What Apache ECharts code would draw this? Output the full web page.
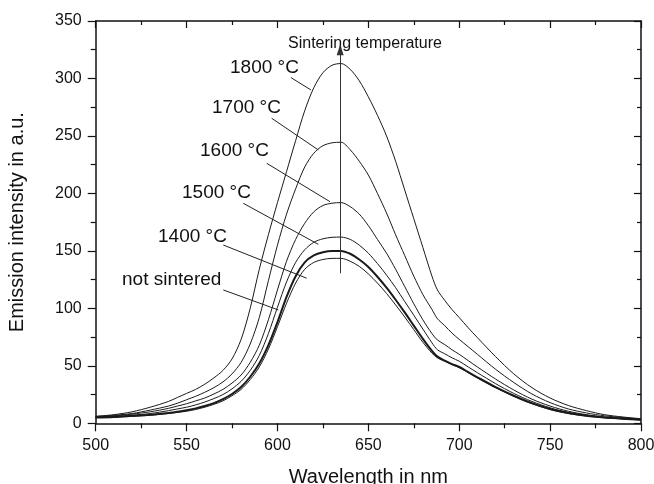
<!DOCTYPE html>
<html>
<head>
<meta charset="utf-8">
<script src="https://cdn.jsdelivr.net/npm/echarts@6/dist/echarts.min.js"></script>
<style>
html,body{margin:0;padding:0;background:#fff;}
#c{width:654px;height:484px;}
</style>
</head>
<body>
<div id="c"></div>
<script>
// ---- data ----
const wavelength = [500,510,520,530,
  540,545,550,555,560,565,570,575,580,585,590,595,600,605,610,615,620,625,630,635,640,645,650,655,660,665,670,675,680,685,
  688,692,696,700,705,710,
  720,730,740,750,760,770,780,790,800];
const s1800 = [6,7.5,10,14,
  19,22.5,26,29.5,34,39.5,46,56,73,100,134,164,192,219,246,272,292,305,311.5,313,308,298,284,268,250,228,203,178,153,128,
  116,107,99,92,83,74.5,
  58,43,31,22,15.5,11,7.5,5.5,4];
const s1700 = [6,7,8.5,11.5,
  15,17.5,20.5,23.5,27,31,36,43,53,69,92,124,155,182,204,223,235,241.5,244,244.5,238,228,216,200,183,164,146,128,112,99,
  91,85,78.5,73,66.5,60,
  47,35.5,25.5,18,12.5,9,6.5,5,3.5];
const s1600 = [5.5,6.5,8,10,
  13,15,17,19.5,22,25.5,29.5,35,42,53,68,90,116,141,160,174,184,189.5,191.5,192,188.5,182,172,160,148,134,119,104,90,78,
  72.5,68.5,64,60,54.5,49,
  38.5,29,21,15,10.5,7.5,5.5,4.5,3.5];
const s1500 = [5.5,6,7,8.5,
  11,12.5,14,16,18.5,21.5,25,30,36.5,46,59,78,101,123,140,151,157.5,160.5,161.8,162,160,155,148,139,129,118,106,94,82,70,
  64,60.5,57,54,49,44,
  34.5,26,19,13.5,9.5,7,5,4,3];
const s1400 = [5,5.5,6.5,7.5,
  9,10,11.3,13,15,17.5,21,25.5,31.5,40.5,52,68,88,110,128,140,146,148.8,150,150,147.5,142.5,136,127.5,118,107.5,96.5,85,73.5,63,
  58,54.5,51.5,49,44.5,40,
  31.5,24,17.5,12.5,9,6.5,5,4,3];
const sNot = [5,5.5,6,7,
  8.5,9.5,10.5,12,14,16.5,19.5,24,29.5,38,49,64.5,84,104.5,122,134,140,142.5,143.5,143.5,141,136.5,130,122,113,103,92.5,81.5,70.5,61,
  57,54,51,48.5,44,39.5,
  31,23.5,17,12,8.5,6.3,4.8,3.8,3];
const xTicks = [500,550,600,650,700,750,800];
const yTicks = [0,50,100,150,200,250,300,350];
const xTitle = 'Wavelength in nm';
const yTitle = 'Emission intensity in a.u.';
// annotation labels (data coords of text left-middle, leader start, leader end)
const labelTexts = ['1800 °C','1700 °C','1600 °C','1500 °C','1400 °C','not sintered'];
const labelAt = [[573.9,309.1],[564.0,274.3],[557.4,236.9],[547.5,200.4],[534.3,162.1],[514.5,124.7]];
const leaderFrom = [[607.4,300.8],[596.8,265.4],[594.1,226.2],[581.2,191.4],[570.2,155.1],[570.2,116.0]];
const leaderTo = [[618.4,290.0],[622.5,237.8],[628.9,192.8],[622.5,155.7],[616.1,126.2],[600.5,98.6]];
const arrowText = 'Sintering temperature';
const arrowTextAt = [605.8,330.0];
const arrowFrom = [634.5,130.5];
const arrowTo = [634.5,325];

const pairs = arr => wavelength.map((w,i)=>[w,arr[i]]);
const FONT = '"Liberation Sans", Arial, sans-serif';
const ink = '#111';

const chart = echarts.init(document.getElementById('c'), null, {renderer:'canvas'});

function curve(name, arr, width){
  return {name, type:'line', data:pairs(arr), showSymbol:false, smooth:0.3,
    lineStyle:{color:'#1a1a1a', width:width}, silent:true, animation:false};
}

const axisCommon = {
  axisLine:{show:true, onZero:false, lineStyle:{color:ink, width:1.5}},
  splitLine:{show:false},
  minorTick:{show:true, splitNumber:2, length:5, lineStyle:{color:ink, width:1.2}},
  axisTick:{show:true, inside:false, length:8, lineStyle:{color:ink, width:1.2}}
};

const option = {
  animation:false,
  backgroundColor:'#fff',
  grid:{left:95.7, right:13, top:21, bottom:60.7, containLabel:false, outerBoundsMode:'none'},
  xAxis:[
    Object.assign({}, axisCommon, {type:'value', min:xTicks[0], max:xTicks[xTicks.length-1], interval:50, position:'bottom',
      name:xTitle, nameLocation:'middle', nameGap:44,
      nameTextStyle:{fontFamily:FONT, fontSize:20, color:ink},
      axisLabel:{show:true, margin:14, fontFamily:FONT, fontSize:16, color:ink}}),
    Object.assign({}, axisCommon, {type:'value', min:xTicks[0], max:xTicks[xTicks.length-1], interval:50, position:'top',
      axisLabel:{show:false},
      axisTick:{show:true, inside:true, length:7, lineStyle:{color:ink, width:1.2}},
      minorTick:{show:true, splitNumber:2, length:4, lineStyle:{color:ink, width:1.2}}})
  ],
  yAxis:[
    Object.assign({}, axisCommon, {type:'value', min:yTicks[0], max:yTicks[yTicks.length-1], interval:50, position:'left',
      name:yTitle, nameLocation:'middle', nameGap:68,
      nameTextStyle:{fontFamily:FONT, fontSize:20, color:ink},
      axisLabel:{show:true, margin:14, fontFamily:FONT, fontSize:16, color:ink}}),
    Object.assign({}, axisCommon, {type:'value', min:yTicks[0], max:yTicks[yTicks.length-1], interval:50, position:'right',
      axisLabel:{show:false},
      axisTick:{show:true, inside:true, length:7, lineStyle:{color:ink, width:1.2}},
      minorTick:{show:true, splitNumber:2, length:4, lineStyle:{color:ink, width:1.2}}})
  ],
  series:[
    curve('not sintered', sNot, 1),
    curve('1400 °C', s1400, 2),
    curve('1500 °C', s1500, 1),
    curve('1600 °C', s1600, 1),
    curve('1700 °C', s1700, 1),
    curve('1800 °C', s1800, 1),
    {type:'line', data:[], silent:true,
      markLine:{silent:true, animation:false, symbol:['none','none'], label:{show:false},
        lineStyle:{color:'#222', width:1, type:'solid'},
        data: leaderFrom.map((f,i)=>[{coord:f},{coord:leaderTo[i]}])}},
    {type:'line', data:[], silent:true,
      markLine:{silent:true, animation:false, symbol:['none','triangle'], symbolSize:[7,11], label:{show:false},
        lineStyle:{color:'#333', width:1, type:'solid'},
        data:[[{coord:arrowFrom},{coord:arrowTo}]]}}
  ]
};
chart.setOption(option);

const gfx = [];
labelTexts.forEach((t,i)=>{
  const p = chart.convertToPixel({xAxisIndex:0, yAxisIndex:0}, labelAt[i]);
  gfx.push({type:'text', x:p[0], y:p[1], silent:true,
    style:{text:t, fill:ink, font:'19px ' + FONT, textAlign:'left', textVerticalAlign:'middle'}});
});
const pa = chart.convertToPixel({xAxisIndex:0, yAxisIndex:0}, arrowTextAt);
gfx.push({type:'text', x:pa[0], y:pa[1], silent:true,
  style:{text:arrowText, fill:ink, font:'16px ' + FONT, textAlign:'left', textVerticalAlign:'middle'}});
chart.setOption({graphic:gfx});
</script>
</body>
</html>
